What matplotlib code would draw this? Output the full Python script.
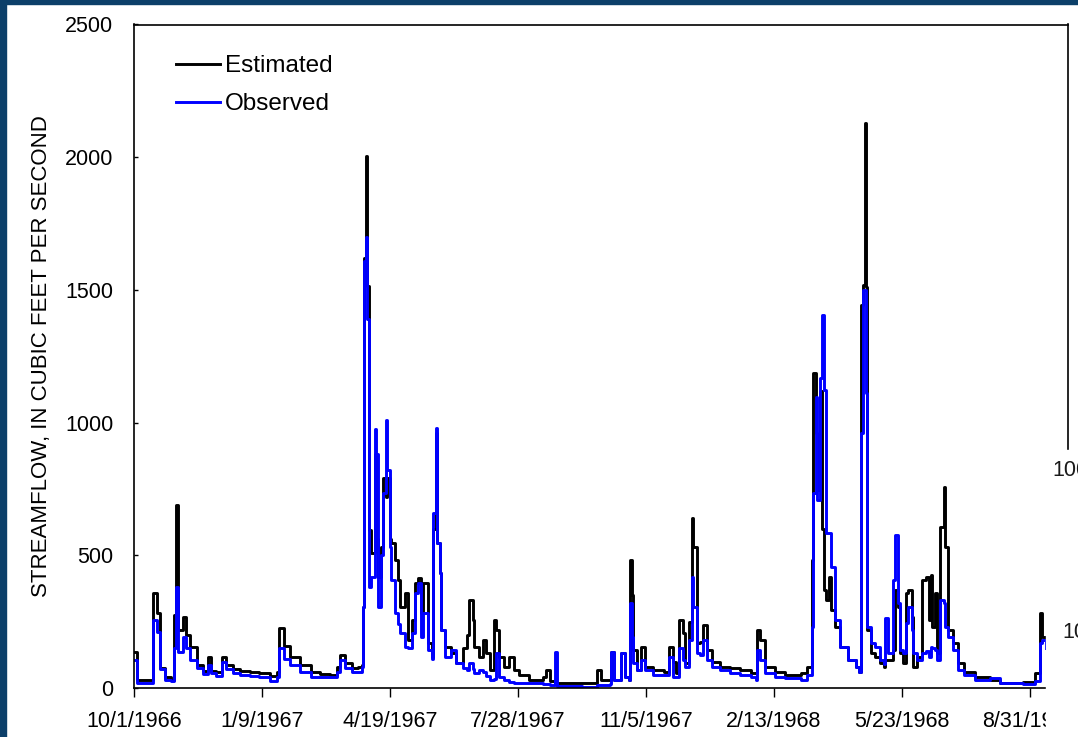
import matplotlib
matplotlib.use("Agg")
import matplotlib.pyplot as plt
from matplotlib.patches import Rectangle

plt.rcParams['font.family'] = ['Liberation Sans', 'DejaVu Sans']

# days since 10/1/1966, daily streamflow (cfs)
days = [0, 2, 15, 18, 20, 24, 29, 31, 33, 34, 38, 41, 44, 49, 54, 58, 60, 64, 69, 72,
        77, 83, 91, 98, 106, 112, 113, 117, 122, 130, 138, 145, 153, 159, 161, 165, 170, 175, 178, 179,
        180, 181, 182, 184, 185, 188, 189, 191, 193, 195, 197, 198, 200, 201, 204, 206, 208, 212, 214, 217,
        220, 222, 224, 226, 230, 233, 234, 236, 237, 239, 240, 243, 248, 252, 257, 260, 262, 265, 266, 270,
        273, 275, 278, 281, 283, 285, 289, 293, 297, 301, 309, 320, 322, 325, 329, 331, 350, 360, 362, 365,
        372, 373, 375, 381, 384, 387, 388, 389, 390, 393, 396, 399, 406, 414, 418, 421, 424, 426, 429, 431,
        434, 436, 437, 440, 442, 445, 448, 452, 458, 466, 474, 482, 486, 487, 489, 493, 501, 509, 521, 526,
        530, 531, 533, 534, 536, 538, 539, 541, 543, 545, 548, 552, 558, 564, 567, 568, 570, 571, 572, 573,
        576, 579, 583, 586, 587, 589, 593, 595, 597, 599, 601, 603, 605, 608, 609, 612, 616, 619, 621, 623,
        624, 626, 628, 630, 633, 634, 636, 640, 644, 649, 657, 669, 677, 695, 704, 708, 710, 713]

estimated = [136, 30, 358, 283, 75, 40, 30, 275, 690, 218, 268, 200, 155, 87, 65, 117, 65, 60, 117, 85,
             72, 65, 60, 55, 45, 60, 226, 160, 117, 87, 60, 52, 49, 80, 124, 94, 75, 78, 87, 305,
             1620, 2005, 1515, 595, 509, 880, 560, 420, 531, 791, 720, 790, 560, 546, 482, 407, 305, 358, 181, 256,
             396, 414, 283, 396, 170, 117, 600, 960, 546, 433, 218, 155, 132, 94, 150, 200, 332, 256, 155, 117,
             181, 132, 68, 256, 218, 117, 79, 117, 68, 49, 30, 40, 68, 25, 20, 19, 19, 19, 68, 30,
             30, 136, 30, 132, 40, 30, 482, 350, 143, 68, 155, 79, 68, 60, 155, 98, 56, 256, 207, 94,
             249, 641, 531, 170, 173, 237, 143, 98, 79, 75, 68, 56, 56, 218, 181, 79, 60, 49, 56, 79,
             482, 1187, 961, 746, 1120, 600, 369, 332, 418, 294, 230, 155, 105, 79, 60, 1443, 1520, 2130, 1510, 218,
             132, 117, 94, 79, 105, 105, 143, 369, 305, 132, 94, 358, 369, 267, 79, 117, 407, 418, 256, 426,
             230, 358, 132, 607, 757, 531, 218, 170, 94, 60, 41, 30, 19, 23, 56, 283, 192, 150]

observed = [105, 20, 256, 211, 70, 30, 25, 150, 380, 135, 192, 150, 105, 75, 52, 87, 55, 45, 98, 70,
            58, 50, 45, 40, 28, 40, 150, 110, 87, 60, 40, 42, 41, 60, 105, 75, 62, 60, 79, 305,
            1610, 1700, 1390, 380, 420, 975, 880, 305, 500, 735, 1010, 821, 531, 407, 283, 240, 207, 155, 150, 207,
            358, 396, 192, 283, 143, 110, 659, 980, 546, 433, 218, 117, 143, 94, 75, 68, 94, 70, 56, 68,
            60, 45, 30, 35, 130, 41, 30, 23, 20, 19, 18, 15, 15, 12, 136, 8, 5, 5, 10, 10,
            15, 136, 30, 132, 40, 30, 320, 192, 94, 68, 105, 68, 49, 49, 117, 41, 41, 150, 105, 79,
            181, 418, 305, 132, 124, 181, 105, 79, 68, 56, 49, 41, 30, 143, 105, 56, 41, 38, 30, 49,
            230, 735, 1096, 708, 1168, 1405, 1123, 584, 584, 456, 256, 155, 105, 79, 60, 960, 1500, 1500, 1110, 230,
            170, 155, 105, 90, 264, 132, 407, 576, 320, 143, 130, 245, 305, 218, 130, 105, 132, 140, 117, 155,
            150, 143, 105, 332, 320, 230, 192, 143, 68, 49, 30, 38, 19, 15, 25, 170, 181, 150]

tick_days = [0, 100, 200, 300, 400, 500, 600, 700]
tick_labels = ["10/1/1966", "1/9/1967", "4/19/1967", "7/28/1967",
               "11/5/1967", "2/13/1968", "5/23/1968", "8/31/1968"]

W, H = 1078, 737
fig = plt.figure(figsize=(W / 100, H / 100), dpi=100)
ax = fig.add_axes([134 / W, 1 - 688 / H, (1068 - 134) / W, (688 - 24.5) / H])

ax.plot(days, estimated, color="black", lw=2.1, drawstyle="steps-post", label="Estimated")
ax.plot(days, observed, color="#0000ff", lw=2.1, drawstyle="steps-post", label="Observed")

ax.set_xlim(0, 730)
ax.set_ylim(0, 2500)
ax.set_xticks(tick_days)
ax.set_xticklabels(tick_labels)
ax.set_yticks([0, 500, 1000, 1500, 2000, 2500])
ax.tick_params(axis="x", direction="out", length=6.5, width=1, pad=10, labelsize=15.5)
ax.tick_params(axis="y", direction="in", length=3, width=1, pad=15, labelsize=15.5)
for s in ax.spines.values():
    s.set_linewidth(1.2)
ax.set_ylabel("STREAMFLOW, IN CUBIC FEET PER SECOND", fontsize=16, labelpad=9)

ax.legend(loc="upper left", bbox_to_anchor=(0.035, 0.968), frameon=False,
          fontsize=17.5, handlelength=1.8, handletextpad=0.2, labelspacing=0.65,
          borderaxespad=0)

# dark border of the slide
navy = "#0c3f69"
fig.patches.append(Rectangle((0, 0), 6 / W, 1, transform=fig.transFigure, color=navy, zorder=10))
fig.patches.append(Rectangle((0, 1 - 3.5 / H), 1, 3.5 / H, transform=fig.transFigure, color=navy, zorder=10))

# overlapping panel on the right edge
fig.patches.append(Rectangle((1046 / W, 0), (W - 1046) / W, 1 - 450 / H,
                             transform=fig.transFigure, color="white", zorder=10))
fig.text(1052 / W, 1 - 471 / H, "100", fontsize=15.5, va="center", ha="left", zorder=11, color="#1a1a1a")
fig.text(1062 / W, 1 - 632 / H, "10", fontsize=15.5, va="center", ha="left", zorder=11, color="#1a1a1a")

fig.savefig("out.png", dpi=100)
